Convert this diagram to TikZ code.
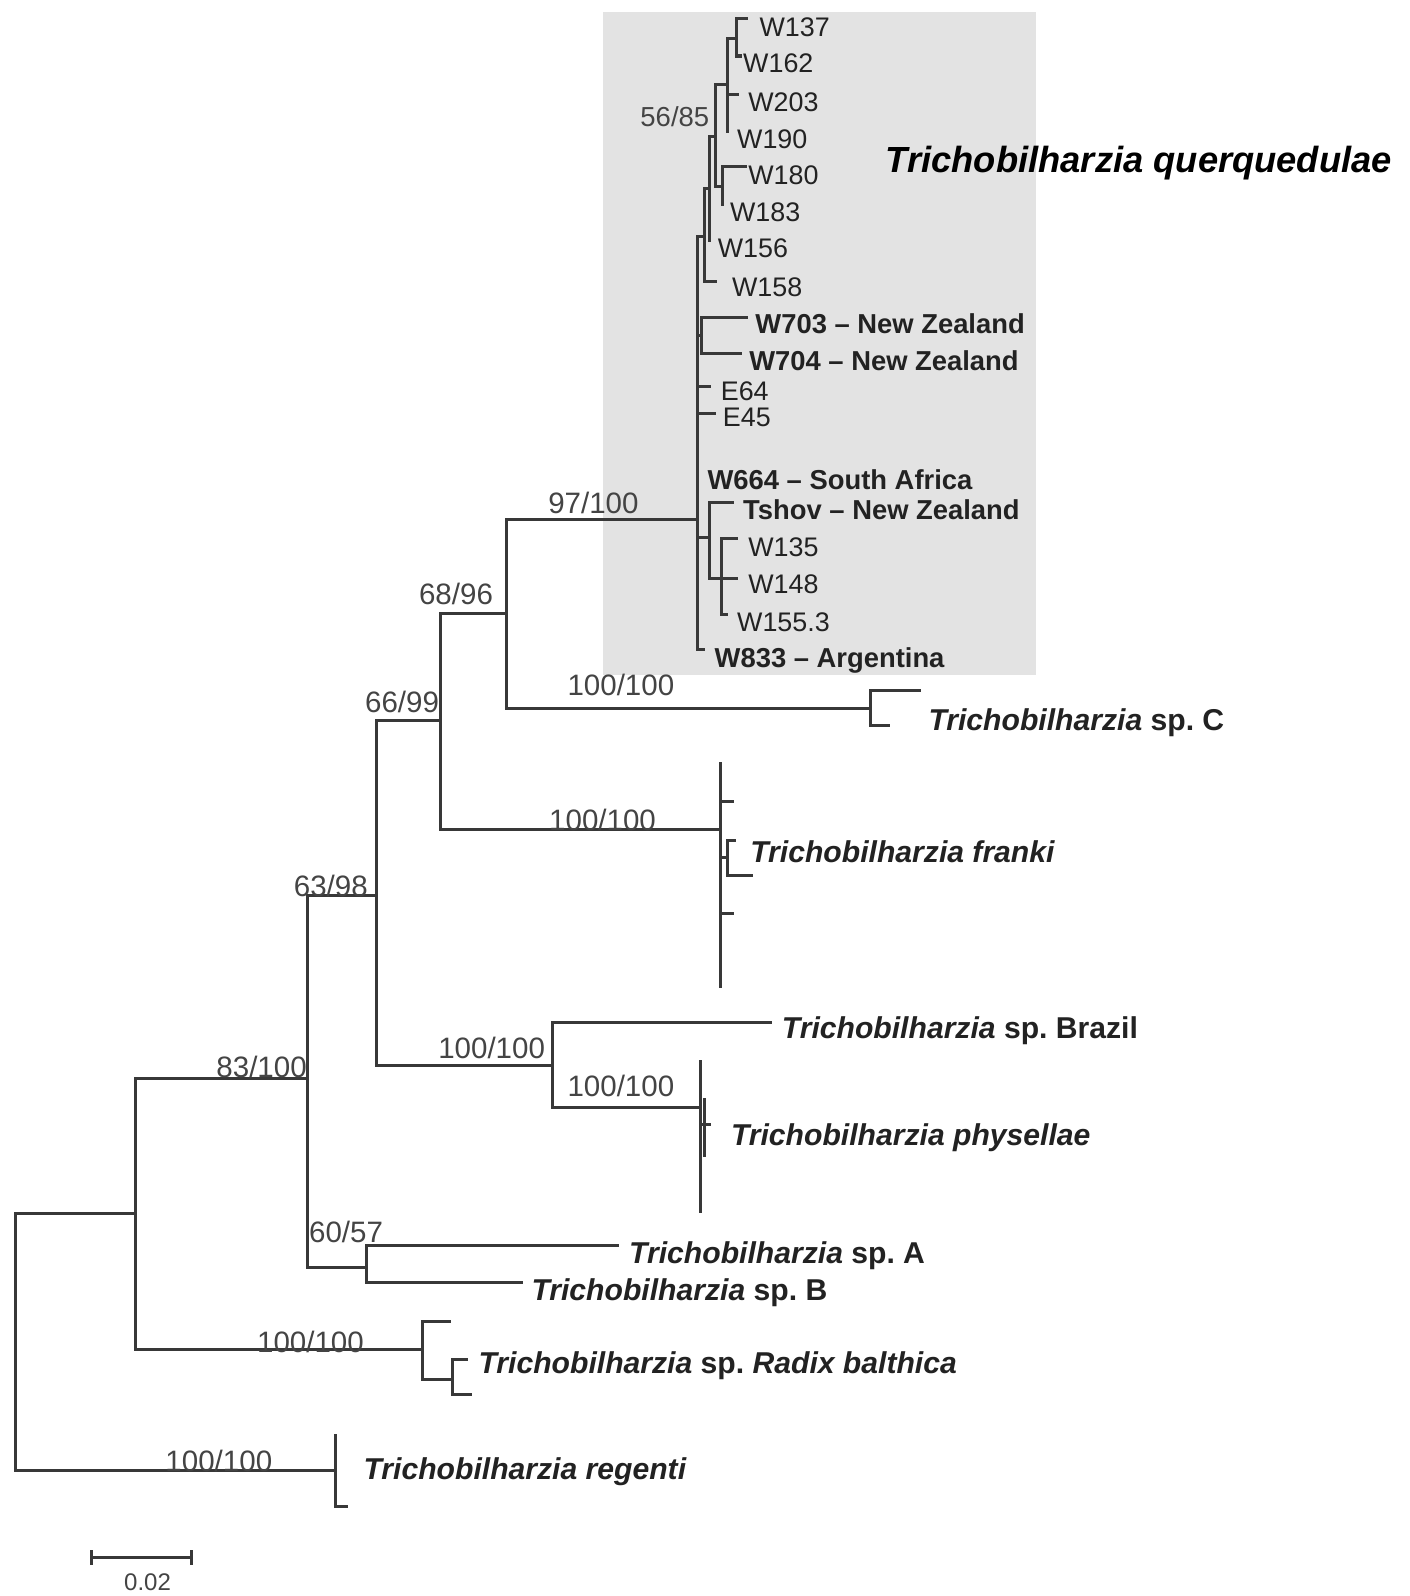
\documentclass[tikz,border=0pt]{standalone}
\usepackage{fontspec}
\setmainfont{Liberation Sans}
\frenchspacing
\begin{document}
\begin{tikzpicture}[x=1pt,y=-1pt,
  br/.style={draw=linecol, line width=3pt, line cap=rect},
  tiplab/.style={anchor=base west, inner sep=0pt, text=tipcol, font=\fontsize{26.4}{30}\selectfont, yshift=-9.5pt},
  boldlab/.style={anchor=base west, inner sep=0pt, text=tipcol, font=\fontsize{26.9}{30}\selectfont\bfseries, yshift=-9.7pt},
  splab/.style={anchor=base west, inner sep=0pt, text=tipcol, font=\fontsize{29.6}{33}\selectfont\bfseries, yshift=-10.7pt},
  suplab/.style={anchor=base, inner sep=0pt, text=supcol, font=\fontsize{29}{33}\selectfont, yshift=-10.4pt},
  suplabs/.style={anchor=base, inner sep=0pt, text=supcol, font=\fontsize{27}{30}\selectfont, yshift=-9.7pt},
  scalelab/.style={anchor=base, inner sep=0pt, text=supcol, font=\fontsize{23.6}{26}\selectfont, yshift=-8.5pt},
]
\definecolor{linecol}{HTML}{383838}
\definecolor{tipcol}{HTML}{222222}
\definecolor{supcol}{HTML}{444444}
\definecolor{boxcol}{HTML}{E3E3E3}
\useasboundingbox (0,0) rectangle (1385,1568);
\fill[white] (0,0) rectangle (1385,1568);
% shaded clade box
\fill[boxcol] (592,12) rectangle (1018,663);

% ---- coordinates (internal nodes) ----
\coordinate (r) at (15,1318);
\coordinate (nA) at (133,1192);
\coordinate (nReg) at (330,1445);
\coordinate (nB) at (302,1060);
\coordinate (nRad) at (415,1326);
\coordinate (nRad2) at (445,1355);
\coordinate (nC) at (370,880);
\coordinate (nAB) at (360,1245);
\coordinate (nD) at (433,708);
\coordinate (nBP) at (543,1047);
\coordinate (nPhys) at (688,1088);
\coordinate (nPh2) at (692,1105);
\coordinate (nE) at (498,603);
\coordinate (nFr) at (708,815);
\coordinate (nFb) at (715,842);
\coordinate (nQ) at (685,510);
\coordinate (nSC) at (855,696);
\coordinate (nQ1) at (692,232);
\coordinate (nQ2) at (697,185);
\coordinate (n5685) at (703,134);
\coordinate (nE2) at (715,83);
\coordinate (nF2) at (724,38);
\coordinate (nD2) at (710,183);
\coordinate (nNZ) at (689,330);
\coordinate (nTs) at (697,528);
\coordinate (nW1) at (709,568);
% ---- tip coordinates ----
\coordinate (tW137) at (733,18);
\coordinate (tW162) at (727,55);
\coordinate (tW203) at (725,93);
\coordinate (tW190) at (715,129);
\coordinate (tW180) at (732,164);
\coordinate (tW183) at (710,201);
\coordinate (tW156) at (697,236);
\coordinate (tW158) at (703,277);
\coordinate (tW703) at (733,312);
\coordinate (tW704) at (727,347);
\coordinate (tE64) at (697,380);
\coordinate (tE45) at (702,406);
\coordinate (tTs) at (720,494);
\coordinate (tW135) at (724,529);
\coordinate (tW148) at (724,568);
\coordinate (tW155) at (714,604);
\coordinate (tW833) at (691,638);
\coordinate (tSC1) at (903,678);
\coordinate (tSC2) at (873,713);
\coordinate (tFr1) at (708,750);
\coordinate (tFr2) at (720,787);
\coordinate (tFr3) at (722,826);
\coordinate (tFr4) at (738,860);
\coordinate (tFr5) at (720,897);
\coordinate (tFr6) at (708,969);
\coordinate (tBraz) at (757,1005);
\coordinate (tPh1) at (688,1043);
\coordinate (tPh2) at (692,1080);
\coordinate (tPh3) at (697,1105);
\coordinate (tPh4) at (692,1135);
\coordinate (tPh5) at (688,1190);
\coordinate (tA) at (607,1224);
\coordinate (tB) at (512,1260);
\coordinate (tRad1) at (442,1298);
\coordinate (tRad2) at (458,1336);
\coordinate (tRad3) at (462,1370);
\coordinate (tReg1) at (330,1410);
\coordinate (tReg2) at (340,1480);

% ---- branches ----
\draw[br] (r) |- (nA);
\draw[br] (r) |- (nReg);
\draw[br] (nA) |- (nB);
\draw[br] (nA) |- (nRad);
\draw[br] (nB) |- (nC);
\draw[br] (nB) |- (nAB);
\draw[br] (nAB) |- (tA);
\draw[br] (nAB) |- (tB);
\draw[br] (nC) |- (nD);
\draw[br] (nC) |- (nBP);
\draw[br] (nBP) |- (tBraz);
\draw[br] (nBP) |- (nPhys);
\draw[br] (nPhys) |- (tPh1);
\draw[br] (nPhys) |- (tPh5);
\draw[br] (nPhys) |- (nPh2);
\draw[br] (nPh2) |- (tPh2);
\draw[br] (nPh2) |- (tPh3);
\draw[br] (nPh2) |- (tPh4);
\draw[br] (nD) |- (nE);
\draw[br] (nD) |- (nFr);
\draw[br] (nFr) |- (tFr1);
\draw[br] (nFr) |- (tFr2);
\draw[br] (nFr) |- (nFb);
\draw[br] (nFb) |- (tFr3);
\draw[br] (nFb) |- (tFr4);
\draw[br] (nFr) |- (tFr5);
\draw[br] (nFr) |- (tFr6);
\draw[br] (nE) |- (nQ);
\draw[br] (nE) |- (nSC);
\draw[br] (nSC) |- (tSC1);
\draw[br] (nSC) |- (tSC2);
\draw[br] (nRad) |- (tRad1);
\draw[br] (nRad) |- (nRad2);
\draw[br] (nRad2) |- (tRad2);
\draw[br] (nRad2) |- (tRad3);
\draw[br] (nReg) |- (tReg1);
\draw[br] (nReg) |- (tReg2);
% querquedulae clade
\draw[br] (nQ) |- (nQ1);
\draw[br] (nQ) |- (nNZ);
\draw[br] (nQ) |- (tE64);
\draw[br] (nQ) |- (tE45);
\draw[br] (nQ) |- (nTs);
\draw[br] (nQ) |- (tW833);
\draw[br] (nQ1) |- (nQ2);
\draw[br] (nQ1) |- (tW158);
\draw[br] (nQ2) |- (n5685);
\draw[br] (nQ2) |- (tW156);
\draw[br] (n5685) |- (nE2);
\draw[br] (n5685) |- (nD2);
\draw[br] (nE2) |- (nF2);
\draw[br] (nE2) |- (tW203);
\draw[br] (nE2) |- (tW190);
\draw[br] (nF2) |- (tW137);
\draw[br] (nF2) |- (tW162);
\draw[br] (nD2) |- (tW180);
\draw[br] (nD2) |- (tW183);
\draw[br] (nNZ) |- (tW703);
\draw[br] (nNZ) |- (tW704);
\draw[br] (nTs) |- (tTs);
\draw[br] (nTs) |- (nW1);
\draw[br] (nW1) |- (tW135);
\draw[br] (nW1) |- (tW148);
\draw[br] (nW1) |- (tW155);

% ---- tip labels ----
\node[tiplab] (lW137) at (746,26) {W137};
\node[tiplab] (lW162) at (730,62) {W162};
\node[tiplab] (lW203) at (735,100) {W203};
\node[tiplab] (lW190) at (724,136) {W190};
\node[tiplab] (lW180) at (735,172) {W180};
\node[tiplab] (lW183) at (717,208) {W183};
\node[tiplab] (lW156) at (705,243) {W156};
\node[tiplab] (lW158) at (719,282) {W158};
\node[boldlab] (lW703) at (742,318) {W703 – New Zealand};
\node[boldlab] (lW704) at (736,354) {W704 – New Zealand};
\node[tiplab] (lE64) at (708,384) {E64};
\node[tiplab] (lE45) at (710,410) {E45};
\node[boldlab] (lW664) at (695,471) {W664 – South Africa};
\node[boldlab] (lTs) at (730,501) {Tshov – New Zealand};
\node[tiplab] (lW135) at (735,537) {W135};
\node[tiplab] (lW148) at (735,574) {W148};
\node[tiplab] (lW155) at (724,611) {W155.3};
\node[boldlab] (lW833) at (702,646) {W833 – Argentina};

\node[anchor=base west, inner sep=0pt, text=black, font=\fontsize{35.7}{40}\selectfont\bfseries\itshape, yshift=-12.8pt] (title) at (870,157) {Trichobilharzia querquedulae};

\node[splab] (lSC) at (912,707) {\itshape Trichobilharzia\upshape\ sp. C};
\node[splab] (lFr) at (737,837) {\itshape Trichobilharzia franki};
\node[splab] (lBr) at (768,1010) {\itshape Trichobilharzia\upshape\ sp. Brazil};
\node[splab] (lPh) at (718,1115) {\itshape Trichobilharzia physellae};
\node[splab] (lA) at (618,1231) {\itshape Trichobilharzia\upshape\ sp. A};
\node[splab] (lB) at (522,1267) {\itshape Trichobilharzia\upshape\ sp. B};
\node[splab] (lRad) at (470,1339) {\itshape Trichobilharzia\upshape\ sp. \itshape Radix balthica};
\node[splab] (lReg) at (357,1443) {\itshape Trichobilharzia regenti};

% ---- support values ----
\node[suplabs] (s1) at (663,115) {56/85};
\node[suplab] (s2) at (583,494) {97/100};
\node[suplab] (s3) at (448,583) {68/96};
\node[suplab] (s4) at (610,673) {100/100};
\node[suplab] (s5) at (395,690) {66/99};
\node[suplab] (s6) at (592,806) {100/100};
\node[suplab] (s7) at (325,870) {63/98};
\node[suplab] (s8) at (483,1030) {100/100};
\node[suplab] (s9) at (610,1067) {100/100};
\node[suplab] (s10) at (257,1048) {83/100};
\node[suplab] (s11) at (340,1210) {60/57};
\node[suplab] (s12) at (305,1318) {100/100};
\node[suplab] (s13) at (215,1435) {100/100};

% ---- scale bar ----
\coordinate (sb1) at (90,1530);
\coordinate (sb2) at (188,1530);
\draw[br, line width=2.6pt] (sb1) -- (sb2);
\draw[br, line width=2.6pt] ([yshift=6pt]sb1) -- ([yshift=-6pt]sb1);
\draw[br, line width=2.6pt] ([yshift=6pt]sb2) -- ([yshift=-6pt]sb2);
\node[scalelab] (sbl) at (145,1554) {0.02};
\end{tikzpicture}
\end{document}
